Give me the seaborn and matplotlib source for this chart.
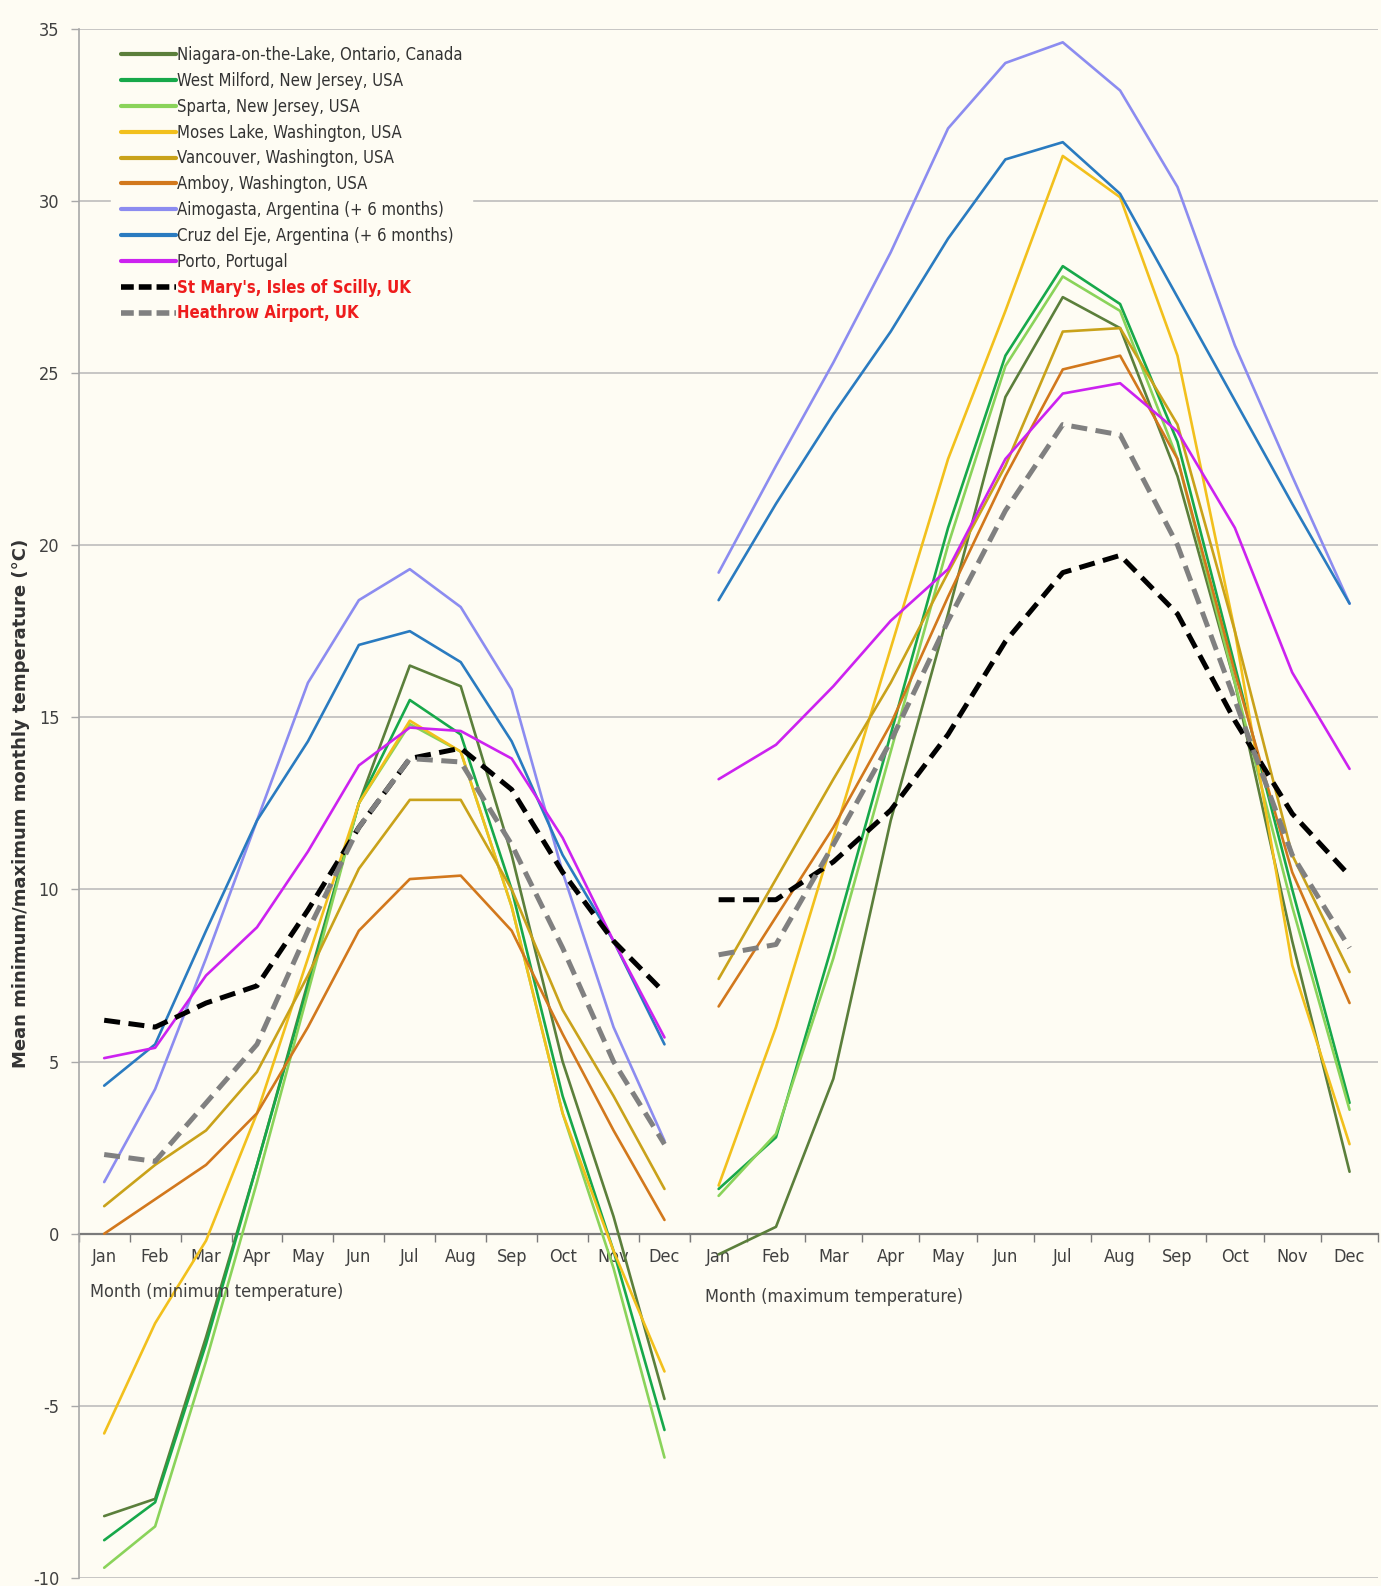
import matplotlib
matplotlib.use("Agg")
import matplotlib.pyplot as plt
import seaborn as sns
import numpy as np
import pandas as pd
from matplotlib.lines import Line2D

# ---------------- data ----------------
months = ["Jan", "Feb", "Mar", "Apr", "May", "Jun", "Jul", "Aug", "Sep", "Oct", "Nov", "Dec"]

series_names = [
    "Niagara-on-the-Lake, Ontario, Canada",
    "West Milford, New Jersey, USA",
    "Sparta, New Jersey, USA",
    "Moses Lake, Washington, USA",
    "Vancouver, Washington, USA",
    "Amboy, Washington, USA",
    "Aimogasta, Argentina (+ 6 months)",
    "Cruz del Eje, Argentina (+ 6 months)",
    "Porto, Portugal",
    "St Mary's, Isles of Scilly, UK",
    "Heathrow Airport, UK",
]

min_niagara   = [-8.2, -7.7, -3.0, 2.0, 7.3, 12.5, 16.5, 15.9, 11.0, 5.0, 0.5, -4.8]
min_wmilford  = [-8.9, -7.8, -3.2, 2.0, 7.2, 12.5, 15.5, 14.5, 10.0, 4.0, -0.5, -5.7]
min_sparta    = [-9.7, -8.5, -3.7, 1.5, 7.0, 12.5, 14.8, 14.0, 9.5, 3.5, -1.0, -6.5]
min_moses     = [-5.8, -2.6, -0.2, 3.5, 8.0, 12.5, 14.9, 14.0, 9.5, 3.5, -0.5, -4.0]
min_vancouver = [0.8, 2.0, 3.0, 4.7, 7.5, 10.6, 12.6, 12.6, 10.0, 6.5, 4.0, 1.3]
min_amboy     = [0.0, 1.0, 2.0, 3.5, 6.0, 8.8, 10.3, 10.4, 8.8, 5.8, 3.0, 0.4]
min_aimogasta = [1.5, 4.2, 8.0, 12.0, 16.0, 18.4, 19.3, 18.2, 15.8, 10.5, 6.0, 2.7]
min_cruz      = [4.3, 5.5, 8.8, 12.0, 14.3, 17.1, 17.5, 16.6, 14.3, 11.0, 8.5, 5.5]
min_porto     = [5.1, 5.4, 7.5, 8.9, 11.1, 13.6, 14.7, 14.6, 13.8, 11.5, 8.5, 5.7]
min_stmarys   = [6.2, 6.0, 6.7, 7.2, 9.4, 11.8, 13.8, 14.1, 12.9, 10.5, 8.5, 7.0]
min_heathrow  = [2.3, 2.1, 3.8, 5.5, 8.8, 11.8, 13.8, 13.7, 11.3, 8.3, 5.0, 2.6]

max_niagara   = [-0.6, 0.2, 4.5, 12.0, 18.0, 24.3, 27.2, 26.3, 22.0, 16.0, 8.5, 1.8]
max_wmilford  = [1.3, 2.8, 8.5, 14.5, 20.5, 25.5, 28.1, 27.0, 23.0, 16.5, 10.0, 3.8]
max_sparta    = [1.1, 2.9, 8.0, 14.0, 20.0, 25.2, 27.8, 26.8, 22.5, 16.0, 9.5, 3.6]
max_moses     = [1.4, 6.0, 11.5, 17.0, 22.5, 26.8, 31.3, 30.1, 25.5, 17.5, 7.8, 2.6]
max_vancouver = [7.4, 10.3, 13.2, 16.0, 19.2, 22.3, 26.2, 26.3, 23.5, 17.5, 11.0, 7.6]
max_amboy     = [6.6, 9.2, 11.8, 14.8, 18.5, 22.0, 25.1, 25.5, 22.5, 16.3, 10.5, 6.7]
max_aimogasta = [19.2, 22.3, 25.3, 28.5, 32.1, 34.0, 34.6, 33.2, 30.4, 25.8, 22.0, 18.3]
max_cruz      = [18.4, 21.2, 23.8, 26.2, 28.9, 31.2, 31.7, 30.2, 27.2, 24.2, 21.2, 18.3]
max_porto     = [13.2, 14.2, 15.9, 17.8, 19.3, 22.5, 24.4, 24.7, 23.3, 20.5, 16.3, 13.5]
max_stmarys   = [9.7, 9.7, 10.8, 12.3, 14.5, 17.2, 19.2, 19.7, 18.0, 14.9, 12.2, 10.4]
max_heathrow  = [8.1, 8.4, 11.3, 14.3, 17.8, 21.0, 23.5, 23.2, 20.0, 15.5, 11.0, 8.3]

min_values = [min_niagara, min_wmilford, min_sparta, min_moses, min_vancouver, min_amboy,
              min_aimogasta, min_cruz, min_porto, min_stmarys, min_heathrow]
max_values = [max_niagara, max_wmilford, max_sparta, max_moses, max_vancouver, max_amboy,
              max_aimogasta, max_cruz, max_porto, max_stmarys, max_heathrow]

y_ticks = [-10, -5, 0, 5, 10, 15, 20, 25, 30, 35]

# ---------------- styles ----------------
colors = ["#5b7f3b", "#17a84a", "#8ad35a", "#f2c01c", "#c9a21a", "#d2781c",
          "#8c8cf0", "#2a7bc0", "#cc22f0", "#000000", "#808080"]
dashed = [False] * 9 + [True, True]
bg = "#fefcf3"

sns.set_theme(style="white")
plt.rcParams["font.family"] = ["DejaVu Sans"]
plt.rcParams["font.stretch"] = "condensed"
plt.rcParams["axes.unicode_minus"] = False

fig = plt.figure(figsize=(13.81, 15.86), dpi=100, facecolor=bg)
left, mid, right = 0.057, 0.4996, 0.998
bottom, top = 0.005, 0.982
ax1 = fig.add_axes([left, bottom, mid - left, top - bottom])
ax2 = fig.add_axes([mid, bottom, right - mid, top - bottom], sharey=ax1)

x = np.arange(12)
for ax, vals_list in ((ax1, min_values), (ax2, max_values)):
    ax.set_facecolor(bg)
    for name, vals, c, d in zip(series_names, vals_list, colors, dashed):
        df = pd.DataFrame({"m": x, "t": vals})
        sns.lineplot(data=df, x="m", y="t", ax=ax, color=c,
                     lw=3.6 if d else 1.9, zorder=4 if d else 3, legend=False)
        if d:
            ax.lines[-1].set_dashes((3.2, 1.7))
    ax.set_xlim(-0.5, 11.5)
    ax.set_ylim(-10, 35)
    ax.set_xlabel("")
    ax.set_ylabel("")
    ax.set_yticks(y_ticks)
    ax.grid(axis="y", color="#b8b8b8", lw=1.1, zorder=0)
    ax.grid(axis="x", visible=False)
    for s in ("top", "right"):
        ax.spines[s].set_visible(False)
    ax.spines["bottom"].set_position(("data", 0))
    ax.spines["bottom"].set_color("#7a7a7a")
    ax.spines["bottom"].set_linewidth(1.6)
    ax.spines["bottom"].set_zorder(2)
    ax.set_xticks(x)
    ax.set_xticklabels(months)
    ax.set_xticks(np.arange(-0.5, 12, 1), minor=True)
    ax.tick_params(axis="x", which="major", length=0, pad=10, labelsize=13, labelcolor="#404040")
    ax.tick_params(axis="x", which="minor", length=6, width=1, color="#7a7a7a", direction="out", bottom=True)

ax1.spines["left"].set_color("#a8a8a8")
ax1.spines["left"].set_linewidth(1.2)
ax1.tick_params(axis="y", length=6, width=1, color="#a8a8a8", direction="out", left=True,
                labelsize=13, labelcolor="#404040", pad=8)
ax2.spines["left"].set_visible(False)
ax2.tick_params(axis="y", left=False, labelleft=False)

ax1.set_ylabel("Mean minimum/maximum monthly temperature (°C)", fontsize=13,
               fontweight="bold", fontstretch="normal", color="#333333")
ax1.yaxis.set_label_coords(-0.080, 0.5)

ax1.text(-0.28, -1.7, "Month (minimum temperature)", ha="left", va="center",
         fontsize=13, color="#404040")
ax2.text(-0.24, -1.85, "Month (maximum temperature)", ha="left", va="center",
         fontsize=13, color="#404040")

handles = []
for c, d in zip(colors, dashed):
    h = Line2D([], [], color=c, lw=4.0 if d else 3.0)
    if d:
        h.set_dashes((2.3, 0.9))
    handles.append(h)
leg = ax1.legend(handles, series_names, loc="upper left", bbox_to_anchor=(0.04, 1.0),
                 frameon=True, facecolor=bg, edgecolor=bg, framealpha=1.0,
                 fontsize=12, handlelength=3.3, handletextpad=0.1, labelspacing=0.47,
                 borderpad=0.55)
leg.set_zorder(5)
for t in leg.get_texts()[-2:]:
    t.set_color("#ee1c1c")
    t.set_fontweight("bold")
for t in leg.get_texts()[:-2]:
    t.set_color("#333333")

fig.savefig("out.png", dpi=100, facecolor=bg)
